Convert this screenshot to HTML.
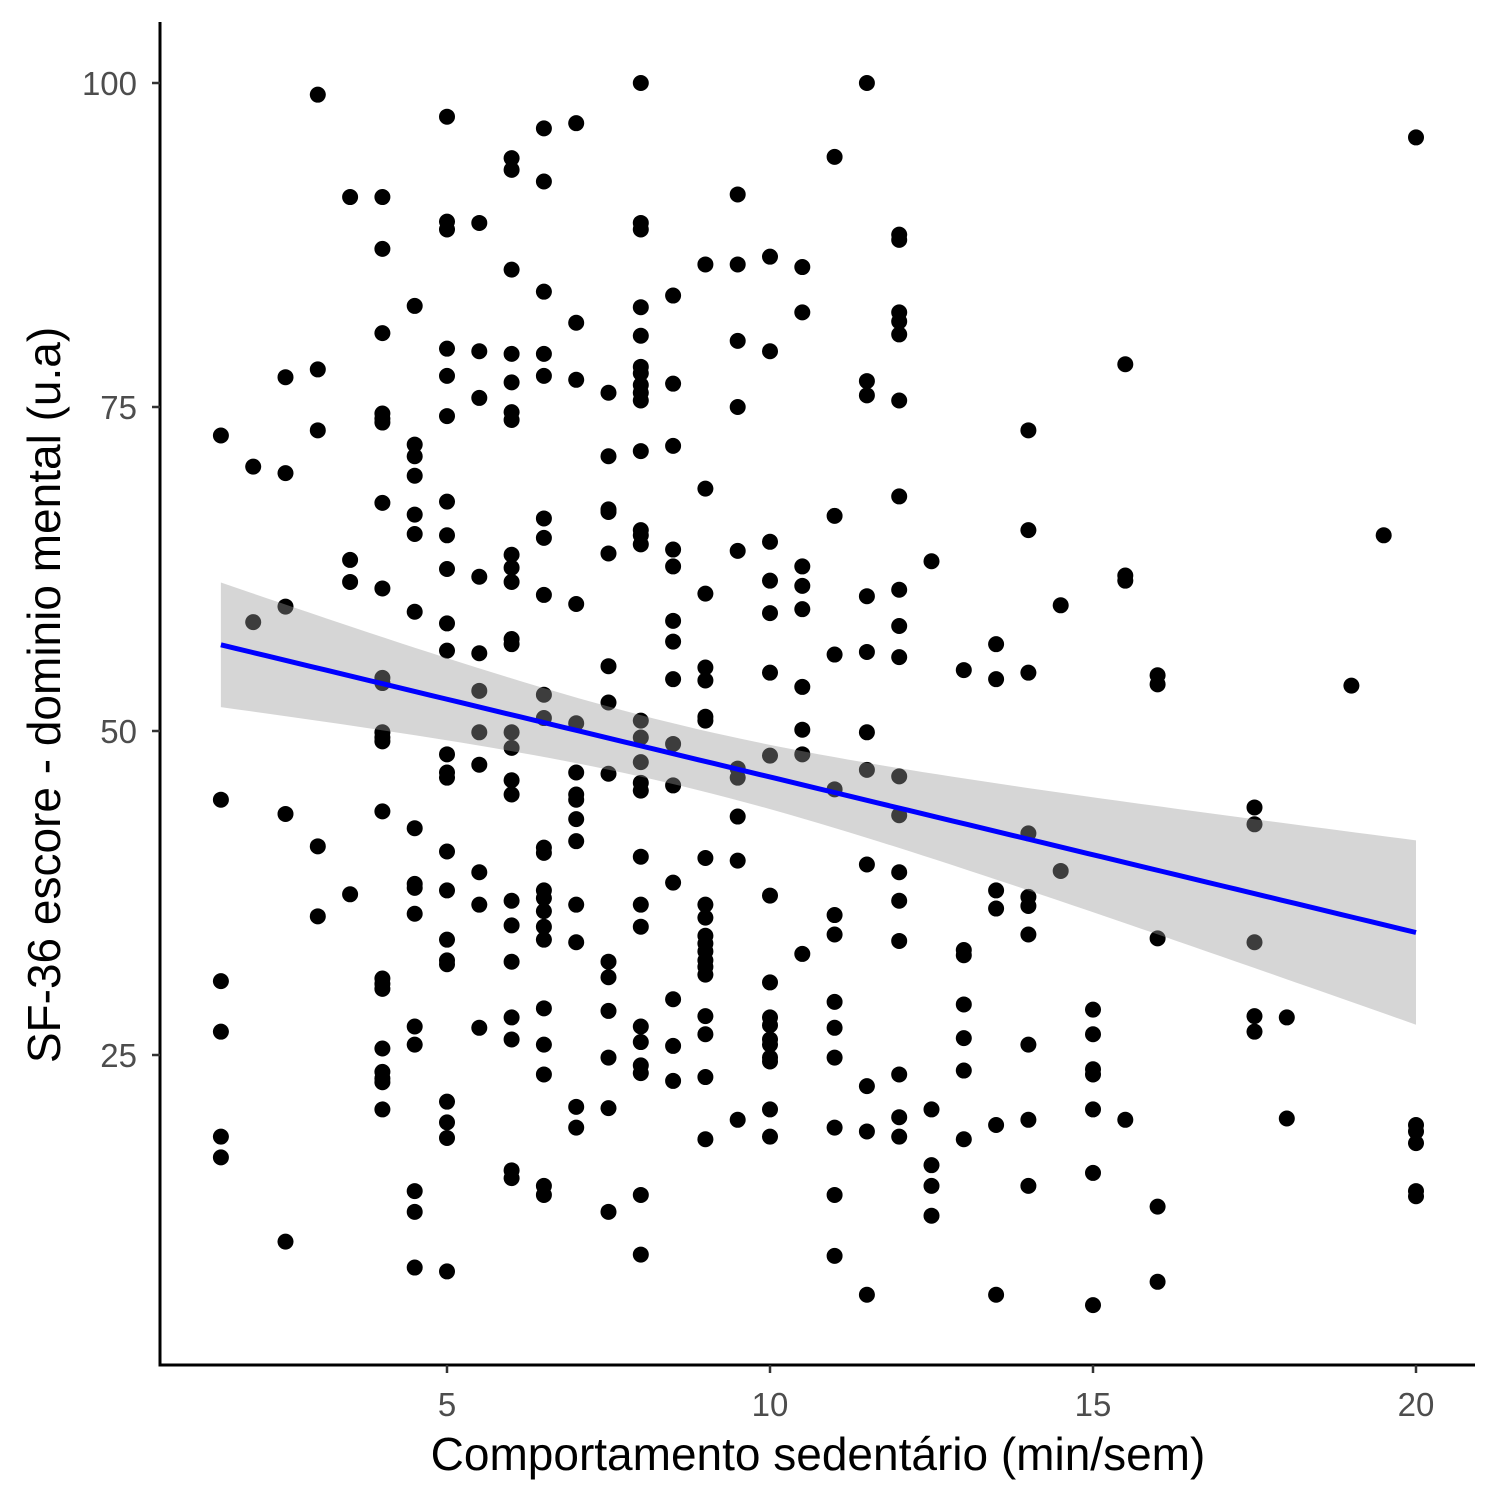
<!DOCTYPE html>
<html><head><meta charset="utf-8"><style>
html,body{margin:0;padding:0;background:#fff;}
svg{display:block;font-family:"Liberation Sans",Arial,sans-serif;}
</style></head><body>
<svg id="chart" width="1500" height="1500" viewBox="0 0 1500 1500">
<g id="points"></g>
<g id="smooth"></g>
<g id="axes"></g>
</svg>
<script>
const xTicks = [5, 10, 15, 20];
const yTicks = [25, 50, 75, 100];
const colX = [1.5,2,2.5,3,3.5,4,4.5,5,5.5,6,6.5,7,7.5,8,8.5,9,9.5,10,10.5,11,11.5,12,12.5,13,13.5,14,14.5,15,15.5,16,17.5,18,19,19.5,20];
const colY = [
[72.8,44.7,30.7,26.8,18.7,17.1],
[70.4,58.4],
[77.3,69.9,59.6,43.6,10.6],
[99.1,77.9,73.2,41.1,35.7],
[91.2,63.2,61.5,37.4],
[91.2,87.2,80.7,74.5,74.1,73.8,67.6,61.0,54.1,53.7,49.9,49.5,49.2,43.8,30.9,30.5,30.1,25.5,23.7,23.2,22.9,20.8],
[82.8,72.1,71.2,69.7,66.7,65.2,59.2,42.5,38.2,37.9,35.9,27.2,25.8,14.5,12.9,8.6],
[97.4,89.3,88.7,79.5,77.4,74.3,67.7,65.1,62.5,58.3,56.2,48.2,46.8,46.4,40.7,37.7,33.9,32.3,32.0,21.4,19.8,18.6,8.3],
[89.2,79.3,75.7,61.9,56.0,53.1,49.9,47.4,39.1,36.6,27.1],
[94.2,93.3,85.6,79.1,76.9,74.6,74.0,63.6,62.6,61.5,57.1,56.7,49.9,48.7,46.2,45.1,36.9,35.0,32.2,27.9,26.2,16.1,15.5],
[96.5,92.4,83.9,79.1,77.4,66.4,64.9,60.5,52.8,51.0,41.0,40.6,37.7,37.1,36.1,34.9,33.9,28.6,25.8,23.5,14.9,14.2],
[96.9,81.5,77.1,59.8,50.6,46.8,45.1,44.7,43.2,41.5,36.6,33.7,21.0,19.4],
[76.1,71.2,67.1,66.9,63.7,55.0,52.2,46.7,32.2,31.0,28.4,24.8,20.9,12.9],
[100,89.2,88.7,82.7,80.5,78.1,77.6,76.7,76.1,75.5,71.6,65.5,65.1,64.4,50.8,49.5,47.6,46.0,45.4,40.3,36.6,34.9,27.2,26.0,24.2,23.6,14.2,9.6],
[83.6,76.8,72.0,64.0,62.7,58.5,56.9,54.0,49.0,45.8,38.3,29.3,25.7,23.0],
[86.0,68.7,60.6,54.9,53.9,51.1,50.8,40.2,36.6,35.6,34.2,33.6,33.0,32.3,31.8,31.2,28.0,26.6,23.3,18.5],
[91.4,86.0,80.1,75.0,63.9,47.1,46.4,43.4,40.0,20.0],
[86.6,79.3,64.6,61.6,59.1,54.5,48.1,37.3,30.6,27.9,27.3,26.2,25.8,24.8,24.5,20.8,18.7],
[85.8,82.3,62.7,61.2,59.4,53.4,50.1,48.2,32.8],
[94.3,66.6,55.9,45.5,35.8,34.3,29.1,27.1,24.8,19.4,14.2,9.5],
[100,77.0,75.9,60.4,56.1,49.9,47.0,39.7,22.6,19.1,6.5],
[88.3,87.9,82.3,81.6,80.6,75.5,68.1,60.9,58.1,55.7,46.5,43.5,39.1,36.9,33.8,23.5,20.2,18.7],
[63.1,20.8,16.5,14.9,12.6],
[54.7,33.1,32.7,28.9,26.3,23.8,18.5],
[56.7,54.0,37.7,36.3,19.6,6.5],
[73.2,65.5,54.5,42.1,37.2,36.5,34.3,25.8,20.0,14.9],
[59.7,39.2],
[28.5,26.6,23.9,23.5,20.8,15.9,5.7],
[78.3,62.0,61.6,20.0],
[54.3,53.6,34.0,13.3,7.5],
[44.1,42.8,33.7,28.0,26.8],
[27.9,20.1],
[53.5],
[65.1],
[95.8,19.6,19.1,18.2,14.5,14.1]
];
const NS = 'http://www.w3.org/2000/svg';
const sx = v => 124 + v * 64.6;
const sy = v => 83 + (100 - v) * 12.96;
function mk(tag, attrs, parent){const e=document.createElementNS(NS,tag);for(const k in attrs)e.setAttribute(k,attrs[k]);parent.appendChild(e);return e;}
const pts = document.getElementById('points');
const X=[],Y=[];
colX.forEach((x,i)=>{colY[i].forEach(y=>{
  X.push(x);Y.push(y);
  const c = mk('circle',{cx:sx(x),cy:sy(y),r:8,fill:'#000'},pts);
  
  
});});
const n=X.length, mx=X.reduce((a,b)=>a+b)/n, my=Y.reduce((a,b)=>a+b)/n;
let sxx=0,sxy=0;for(let i=0;i<n;i++){sxx+=(X[i]-mx)**2;sxy+=(X[i]-mx)*(Y[i]-my);}
const b=sxy/sxx, a=my-b*mx;
let sse=0;for(let i=0;i<n;i++)sse+=(Y[i]-a-b*X[i])**2;
const s=Math.sqrt(sse/(n-2)), t=1.966;
const xmin=Math.min(...X), xmax=Math.max(...X);
const up=[],lo=[],ln=[];
for(let k=0;k<=80;k++){const x=xmin+(xmax-xmin)*k/80;const f=a+b*x;const se=s*Math.sqrt(1/n+(x-mx)**2/sxx);
 up.push(sx(x)+','+sy(f+t*se));lo.unshift(sx(x)+','+sy(f-t*se));ln.push(sx(x)+','+sy(f));}
const sm=document.getElementById('smooth');
const band=mk('polygon',{points:up.concat(lo).join(' '),fill:'#999999','fill-opacity':0.4},sm);


const line=mk('polyline',{points:ln.join(' '),fill:'none',stroke:'#0000ff','stroke-width':5},sm);


const ax=document.getElementById('axes');
const yl=mk('line',{x1:160,y1:22,x2:160,y2:1366.5,stroke:'#000','stroke-width':3},ax);


const xl=mk('line',{x1:158.5,y1:1365,x2:1475,y2:1365,stroke:'#000','stroke-width':3},ax);


xTicks.forEach(v=>{
  const tk=mk('line',{x1:sx(v),y1:1365,x2:sx(v),y2:1373,stroke:'#333','stroke-width':2.5},ax);
  
  
  const tx=mk('text',{x:sx(v),y:1416,'text-anchor':'middle','font-size':33,fill:'#4d4d4d'},ax);
  tx.textContent=v;
  
  
});
yTicks.forEach(v=>{
  const tk=mk('line',{x1:152,y1:sy(v),x2:160,y2:sy(v),stroke:'#333','stroke-width':2.5},ax);
  
  
  const tx=mk('text',{x:137,y:sy(v)+12,'text-anchor':'end','font-size':33,fill:'#4d4d4d'},ax);
  tx.textContent=v;
  
  
});
const xt=mk('text',{x:818,y:1470,'text-anchor':'middle','font-size':46,fill:'#000'},ax);
xt.textContent='Comportamento sedentário (min/sem)';


const yt=mk('text',{x:0,y:0,'text-anchor':'middle','font-size':46,fill:'#000',transform:'translate(60,695) rotate(-90)'},ax);
yt.textContent='SF-36 escore - dominio mental (u.a)';


</script>
</body></html>
